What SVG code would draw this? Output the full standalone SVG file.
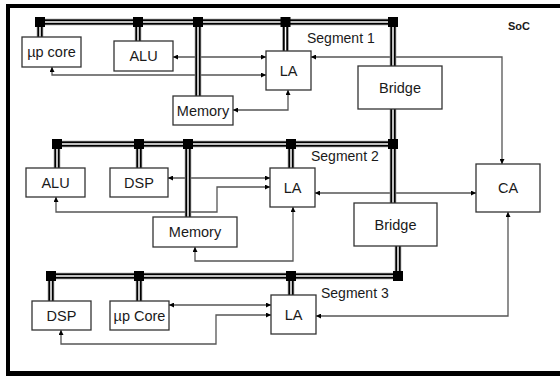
<svg xmlns="http://www.w3.org/2000/svg" xmlns:xlink="http://www.w3.org/1999/xlink" width="560" height="376" viewBox="0 0 560 376">
<style>
text{font-family:"Liberation Sans",Arial,sans-serif;fill:#1a1a1a}
.lbl{font-size:14.5px;text-anchor:middle;dominant-baseline:central}
.seg{font-size:14px}
.box{fill:#fff;stroke:#333;stroke-width:1.3}
.con{fill:none;stroke:#555;stroke-width:1.3;marker-start:url(#ah);marker-end:url(#ah)}
.bA{fill:none;stroke:#888;stroke-width:6.5}
.bB{fill:none;stroke:#000;stroke-width:5}
.bC{fill:none;stroke:#fff;stroke-width:1.5}
.sq{fill:#000}
</style>
<defs>
<marker id="ah" viewBox="0 0 6 6" refX="6" refY="3" markerWidth="6" markerHeight="5" orient="auto-start-reverse" markerUnits="userSpaceOnUse">
<path d="M0,0 L6,3 L0,6 z" fill="#000"/>
</marker>
<path id="bus" d="M40,22 H393 M40,22 V37 M138,22 V41 M198,22 V96 M285.5,22 V51 M393,22 V203 M57,144 H393 M57,144 V168 M139,144 V168 M188,144 V217 M291,144 V168 M398,246 V276 M51,276 H398 M51,276 V301 M139,276 V301 M291,276 V295"/>
</defs>
<rect width="560" height="376" fill="#fff"/>
<path d="M8,376 V6 H560" fill="none" stroke="#000" stroke-width="4"/>
<rect x="6" y="371" width="554" height="5" fill="#000"/>
<text x="508" y="30" style="font-size:11px;font-weight:bold">SoC</text>

<g id="connectors">
<path class="con" d="M173,57 H266"/>
<path class="con" d="M52,67 V75 H266"/>
<path class="con" d="M233,110 H288 V90"/>
<path class="con" d="M311,57 H502 V164"/>
<path class="con" d="M168,178 H270"/>
<path class="con" d="M56,197 V212 H217 V187 H270"/>
<path class="con" d="M195,247 V261 H293 V207"/>
<path class="con" d="M315,193 H476"/>
<path class="con" d="M169,305 H271"/>
<path class="con" d="M61,330 V344 H216 V315 H271"/>
<path class="con" d="M316,316 H508 V212"/>
</g>

<g id="buses">
<use xlink:href="#bus" class="bA"/>
<use xlink:href="#bus" class="bB"/>
<use xlink:href="#bus" class="bC"/>
<rect class="sq" x="35" y="17" width="10" height="10"/>
<rect class="sq" x="133" y="17" width="10" height="10"/>
<rect class="sq" x="193" y="17" width="10" height="10"/>
<rect class="sq" x="280.5" y="17" width="10" height="10"/>
<rect class="sq" x="388" y="17" width="10" height="10"/>
<rect class="sq" x="52" y="139" width="10" height="10"/>
<rect class="sq" x="134" y="139" width="10" height="10"/>
<rect class="sq" x="183" y="139" width="10" height="10"/>
<rect class="sq" x="286" y="139" width="10" height="10"/>
<rect class="sq" x="388" y="139" width="10" height="10"/>
<rect class="sq" x="46" y="271" width="10" height="10"/>
<rect class="sq" x="134" y="271" width="10" height="10"/>
<rect class="sq" x="286" y="271" width="10" height="10"/>
<rect class="sq" x="393" y="271" width="10" height="10"/>
</g>

<text class="seg" x="307" y="43">Segment 1</text>
<text class="seg" x="311" y="161">Segment 2</text>
<text class="seg" x="321" y="298">Segment 3</text>

<g id="up1"><rect class="box" x="22" y="37" width="59" height="30"/><text class="lbl" x="51.5" y="52">µp core</text></g>
<g id="alu1"><rect class="box" x="114" y="41" width="59" height="30"/><text class="lbl" x="143.5" y="56">ALU</text></g>
<g id="mem1"><rect class="box" x="173" y="96" width="60" height="29"/><text class="lbl" x="203" y="110.5">Memory</text></g>
<g id="la1"><rect class="box" x="266" y="51" width="45" height="39"/><text class="lbl" x="288.5" y="70.5">LA</text></g>
<g id="bridge1"><rect class="box" x="358" y="66" width="84" height="43"/><text class="lbl" x="400" y="87.5">Bridge</text></g>

<g id="alu2"><rect class="box" x="26" y="168" width="59" height="29"/><text class="lbl" x="55.5" y="182.5">ALU</text></g>
<g id="dsp2"><rect class="box" x="110" y="168" width="58" height="29"/><text class="lbl" x="139" y="182.5">DSP</text></g>
<g id="mem2"><rect class="box" x="153" y="217" width="84" height="30"/><text class="lbl" x="195" y="232">Memory</text></g>
<g id="la2"><rect class="box" x="270" y="168" width="45" height="39"/><text class="lbl" x="292.5" y="187.5">LA</text></g>
<g id="bridge2"><rect class="box" x="354" y="203" width="83" height="43"/><text class="lbl" x="395.5" y="224.5">Bridge</text></g>
<g id="ca"><rect class="box" x="476" y="164" width="64" height="48"/><text class="lbl" x="508" y="188">CA</text></g>

<g id="dsp3"><rect class="box" x="32" y="301" width="59" height="29"/><text class="lbl" x="61.5" y="315.5">DSP</text></g>
<g id="up3"><rect class="box" x="110" y="301" width="59" height="29"/><text class="lbl" x="139.5" y="315.5">µp Core</text></g>
<g id="la3"><rect class="box" x="271" y="295" width="45" height="39"/><text class="lbl" x="293.5" y="314.5">LA</text></g>
</svg>
